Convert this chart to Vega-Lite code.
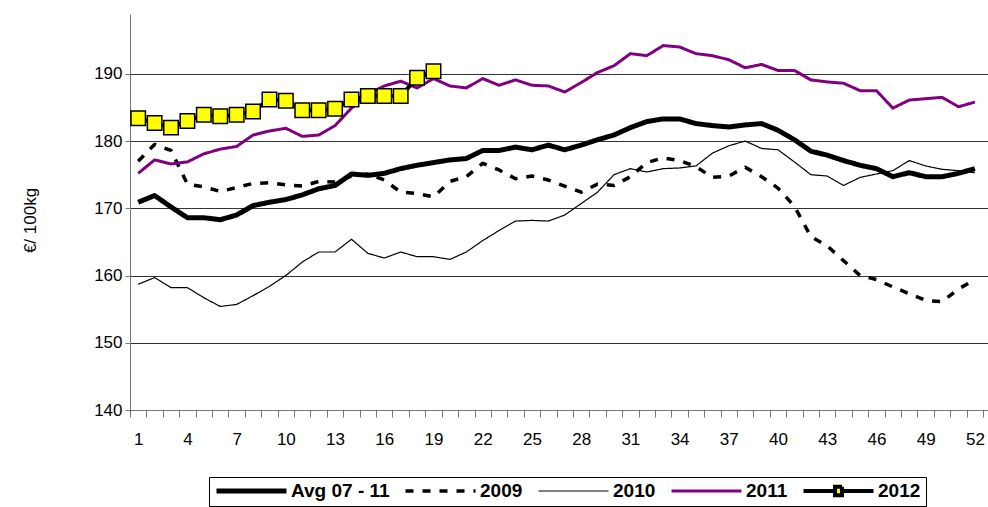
{
  "$schema": "https://vega.github.io/schema/vega-lite/v6.json",
  "width": 858,
  "height": 396,
  "autosize": "none",
  "padding": {"left": 130, "top": 14, "right": 0, "bottom": 97},
  "config": {
    "font": "Liberation Sans",
    "view": {"stroke": null},
    "axis": {"labelColor": "#000", "titleColor": "#000", "labelFont": "Liberation Sans", "titleFont": "Liberation Sans"}
  },
  "data": {
    "values": [
      {"week": 1, "Avg 07 - 11": 170.9, "2009": 177.0, "2010": 158.7, "2011": 175.2, "2012": 183.4},
      {"week": 2, "Avg 07 - 11": 171.9, "2009": 179.5, "2010": 159.7, "2011": 177.2, "2012": 182.7},
      {"week": 3, "Avg 07 - 11": 170.2, "2009": 178.6, "2010": 158.2, "2011": 176.6, "2012": 182.0},
      {"week": 4, "Avg 07 - 11": 168.6, "2009": 173.6, "2010": 158.2, "2011": 176.9, "2012": 183.0},
      {"week": 5, "Avg 07 - 11": 168.6, "2009": 173.2, "2010": 156.7, "2011": 178.1, "2012": 183.9},
      {"week": 6, "Avg 07 - 11": 168.3, "2009": 172.5, "2010": 155.4, "2011": 178.8, "2012": 183.7},
      {"week": 7, "Avg 07 - 11": 169.0, "2009": 173.1, "2010": 155.7, "2011": 179.2, "2012": 183.9},
      {"week": 8, "Avg 07 - 11": 170.4, "2009": 173.7, "2010": 157.0, "2011": 180.9, "2012": 184.4},
      {"week": 9, "Avg 07 - 11": 170.9, "2009": 173.8, "2010": 158.4, "2011": 181.5, "2012": 186.2},
      {"week": 10, "Avg 07 - 11": 171.3, "2009": 173.5, "2010": 160.0, "2011": 181.9, "2012": 186.0},
      {"week": 11, "Avg 07 - 11": 172.0, "2009": 173.3, "2010": 162.0, "2011": 180.7, "2012": 184.6},
      {"week": 12, "Avg 07 - 11": 172.9, "2009": 174.0, "2010": 163.5, "2011": 180.9, "2012": 184.6},
      {"week": 13, "Avg 07 - 11": 173.4, "2009": 173.9, "2010": 163.5, "2011": 182.3, "2012": 184.8},
      {"week": 14, "Avg 07 - 11": 175.1, "2009": 174.8, "2010": 165.4, "2011": 184.9, "2012": 186.2},
      {"week": 15, "Avg 07 - 11": 174.9, "2009": 175.1, "2010": 163.3, "2011": 187.0, "2012": 186.7},
      {"week": 16, "Avg 07 - 11": 175.2, "2009": 174.2, "2010": 162.6, "2011": 188.2, "2012": 186.7},
      {"week": 17, "Avg 07 - 11": 175.9, "2009": 172.4, "2010": 163.5, "2011": 188.9, "2012": 186.7},
      {"week": 18, "Avg 07 - 11": 176.4, "2009": 172.2, "2010": 162.8, "2011": 187.9, "2012": 189.4},
      {"week": 19, "Avg 07 - 11": 176.8, "2009": 171.7, "2010": 162.8, "2011": 189.3, "2012": 190.4},
      {"week": 20, "Avg 07 - 11": 177.2, "2009": 174.0, "2010": 162.4, "2011": 188.2},
      {"week": 21, "Avg 07 - 11": 177.4, "2009": 174.7, "2010": 163.5, "2011": 187.9},
      {"week": 22, "Avg 07 - 11": 178.6, "2009": 176.7, "2010": 165.2, "2011": 189.3},
      {"week": 23, "Avg 07 - 11": 178.6, "2009": 175.7, "2010": 166.7, "2011": 188.3},
      {"week": 24, "Avg 07 - 11": 179.1, "2009": 174.4, "2010": 168.1, "2011": 189.1},
      {"week": 25, "Avg 07 - 11": 178.7, "2009": 174.8, "2010": 168.2, "2011": 188.3},
      {"week": 26, "Avg 07 - 11": 179.4, "2009": 174.2, "2010": 168.1, "2011": 188.2},
      {"week": 27, "Avg 07 - 11": 178.7, "2009": 173.3, "2010": 169.0, "2011": 187.3},
      {"week": 28, "Avg 07 - 11": 179.4, "2009": 172.4, "2010": 170.7, "2011": 188.7},
      {"week": 29, "Avg 07 - 11": 180.2, "2009": 173.6, "2010": 172.4, "2011": 190.2},
      {"week": 30, "Avg 07 - 11": 180.9, "2009": 173.4, "2010": 175.0, "2011": 191.2},
      {"week": 31, "Avg 07 - 11": 182.0, "2009": 174.7, "2010": 175.9, "2011": 193.0},
      {"week": 32, "Avg 07 - 11": 182.9, "2009": 176.8, "2010": 175.4, "2011": 192.7},
      {"week": 33, "Avg 07 - 11": 183.3, "2009": 177.5, "2010": 175.9, "2011": 194.2},
      {"week": 34, "Avg 07 - 11": 183.3, "2009": 177.1, "2010": 176.0, "2011": 194.0},
      {"week": 35, "Avg 07 - 11": 182.6, "2009": 176.2, "2010": 176.3, "2011": 193.0},
      {"week": 36, "Avg 07 - 11": 182.3, "2009": 174.6, "2010": 178.2, "2011": 192.7},
      {"week": 37, "Avg 07 - 11": 182.1, "2009": 174.8, "2010": 179.3, "2011": 192.1},
      {"week": 38, "Avg 07 - 11": 182.4, "2009": 176.1, "2010": 180.0, "2011": 190.9},
      {"week": 39, "Avg 07 - 11": 182.6, "2009": 174.7, "2010": 178.9, "2011": 191.4},
      {"week": 40, "Avg 07 - 11": 181.6, "2009": 173.0, "2010": 178.7, "2011": 190.5},
      {"week": 41, "Avg 07 - 11": 180.2, "2009": 170.3, "2010": 176.9, "2011": 190.5},
      {"week": 42, "Avg 07 - 11": 178.5, "2009": 165.8, "2010": 175.0, "2011": 189.1},
      {"week": 43, "Avg 07 - 11": 177.9, "2009": 164.4, "2010": 174.8, "2011": 188.8},
      {"week": 44, "Avg 07 - 11": 177.1, "2009": 162.2, "2010": 173.4, "2011": 188.6},
      {"week": 45, "Avg 07 - 11": 176.4, "2009": 160.0, "2010": 174.6, "2011": 187.5},
      {"week": 46, "Avg 07 - 11": 175.9, "2009": 159.4, "2010": 175.1, "2011": 187.5},
      {"week": 47, "Avg 07 - 11": 174.7, "2009": 158.3, "2010": 175.6, "2011": 184.9},
      {"week": 48, "Avg 07 - 11": 175.3, "2009": 157.3, "2010": 177.1, "2011": 186.1},
      {"week": 49, "Avg 07 - 11": 174.7, "2009": 156.3, "2010": 176.3, "2011": 186.3},
      {"week": 50, "Avg 07 - 11": 174.7, "2009": 156.1, "2010": 175.8, "2011": 186.5},
      {"week": 51, "Avg 07 - 11": 175.2, "2009": 158.0, "2010": 175.6, "2011": 185.1},
      {"week": 52, "Avg 07 - 11": 175.9, "2009": 159.4, "2010": 175.3, "2011": 185.8}
    ]
  },
  "transform": [
    {"fold": ["2010", "2009", "Avg 07 - 11", "2011", "2012"], "as": ["series", "value"]},
    {"filter": "datum.value != null"}
  ],
  "encoding": {
    "x": {
      "field": "week",
      "type": "quantitative",
      "scale": {"domain": [0.5, 52.8], "nice": false, "zero": false},
      "axis": {
        "title": null,
        "grid": false,
        "values": [0.5, 1.5, 2.5, 3.5, 4.5, 5.5, 6.5, 7.5, 8.5, 9.5, 10.5, 11.5, 12.5, 13.5, 14.5, 15.5, 16.5, 17.5, 18.5, 19.5, 20.5, 21.5, 22.5, 23.5, 24.5, 25.5, 26.5, 27.5, 28.5, 29.5, 30.5, 31.5, 32.5, 33.5, 34.5, 35.5, 36.5, 37.5, 38.5, 39.5, 40.5, 41.5, 42.5, 43.5, 44.5, 45.5, 46.5, 47.5, 48.5, 49.5, 50.5, 51.5, 52.5, 1, 4, 7, 10, 13, 16, 19, 22, 25, 28, 31, 34, 37, 40, 43, 46, 49, 52],
        "labelExpr": "datum.value % 1 === 0 ? format(datum.value, 'd') : ''",
        "tickOpacity": {"condition": {"test": "datum.value % 1 !== 0", "value": 1}, "value": 0},
        "tickSize": 7,
        "tickColor": "#777",
        "domainColor": "#777",
        "labelPadding": 14,
        "labelFontSize": 17,
        "labelOverlap": false,
        "labelFlush": false,
        "labelBound": false
      }
    },
    "y": {
      "field": "value",
      "type": "quantitative",
      "scale": {"domain": [140, 198.9], "nice": false, "zero": false},
      "axis": {
        "values": [140, 150, 160, 170, 180, 190],
        "grid": true,
        "gridColor": "#333",
        "gridWidth": 1,
        "domainColor": "#777",
        "tickColor": "#777",
        "tickSize": 5,
        "labelPadding": 3,
        "labelFontSize": 17,
        "title": "€/ 100kg",
        "titleFontSize": 17,
        "titleFontWeight": "normal",
        "titleAngle": 270,
        "titleAlign": "center",
        "titleBaseline": "middle",
        "titleX": -100,
        "titleY": 206
      }
    }
  },
  "layer": [
    {
      "mark": {"type": "line", "strokeJoin": "round"},
      "encoding": {
        "color": {
          "field": "series",
          "type": "nominal",
          "scale": {"domain": ["Avg 07 - 11", "2009", "2010", "2011", "2012"], "range": ["#000000", "#000000", "#000000", "#800080", "#000000"]},
          "legend": {
            "title": null,
            "orient": "none",
            "legendX": 79,
            "legendY": 463,
            "direction": "horizontal",
            "columns": 5,
            "columnPadding": 13,
            "padding": 5,
            "strokeColor": "#000",
            "fillColor": "#fff",
            "clipHeight": 18,
            "symbolSize": 4900,
            "symbolOffset": 0,
            "labelOffset": 2,
            "labelFont": "Liberation Sans",
            "labelFontSize": 19,
            "labelFontWeight": "bold",
            "labelColor": "#000",
            "labelLimit": 200,
            "encode": {
              "symbols": {
                "update": {
                  "shape": {"signal": "datum.value === '2012' ? 'M-1,0H-0.1M0.1,0H1M-0.1,-0.12H0.1V0.12H-0.1Z' : 'M-1,0H1'"},
                  "fill": {"signal": "datum.value === '2012' ? '#ffff00' : 'transparent'"},
                  "strokeWidth": {"signal": "datum.value === 'Avg 07 - 11' ? 5 : datum.value === '2009' ? 4 : datum.value === '2010' ? 1.2 : datum.value === '2011' ? 3 : 3"},
                  "strokeDash": {"signal": "datum.value === '2009' ? [8, 9] : [1, 0]"},
                  "opacity": {"value": 1}
                }
              }
            }
          }
        },
        "strokeDash": {
          "field": "series",
          "type": "nominal",
          "scale": {"domain": ["Avg 07 - 11", "2009", "2010", "2011", "2012"], "range": [[1, 0], [8, 9], [1, 0], [1, 0], [1, 0]]},
          "legend": null
        },
        "strokeWidth": {
          "field": "series",
          "type": "nominal",
          "scale": {"type": "ordinal", "domain": ["Avg 07 - 11", "2009", "2010", "2011", "2012"], "range": [5, 3.5, 1.2, 3, 4]},
          "legend": null
        }
      }
    },
    {
      "transform": [{"filter": "datum.series === '2012'"}],
      "mark": {"type": "point", "shape": "square", "filled": true, "fill": "#ffff00", "stroke": "#000", "strokeWidth": 1.5, "size": 210, "opacity": 1},
      "encoding": {}
    }
  ]
}
